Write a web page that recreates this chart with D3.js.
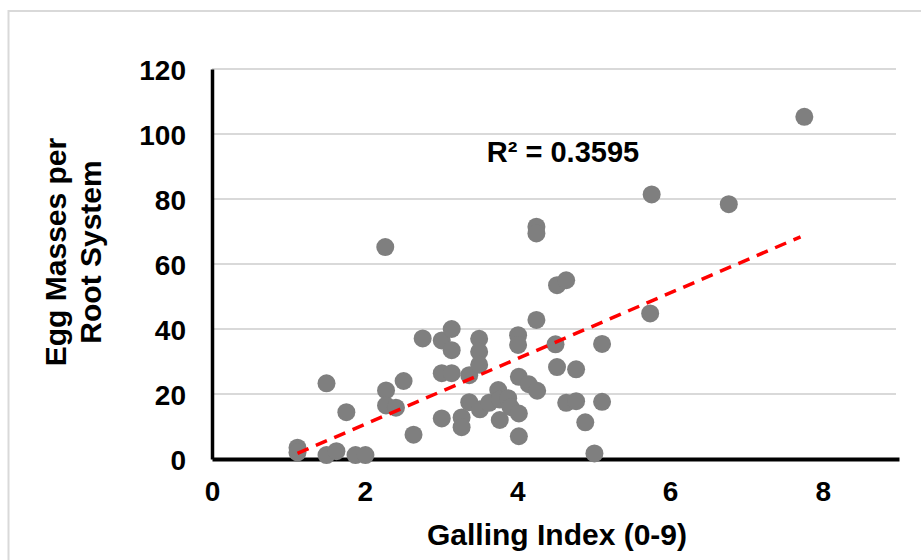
<!DOCTYPE html>
<html>
<head>
<meta charset="utf-8">
<script src="https://cdn.jsdelivr.net/npm/d3@7"></script>
<style>
  body { margin: 0; background: #fff; }
  text { font-family: "Liberation Sans", Arial, sans-serif; font-weight: bold; fill: #000; }
</style>
</head>
<body>
<svg id="chart"></svg>
<script>
// Galling index (x) and egg masses per root system (y)
const gallingIndex = [
  1.12, 1.12, 1.50, 1.63, 1.50, 1.76, 1.88, 2.01, 2.27, 2.28,
  2.28, 2.41, 2.51, 2.64, 2.76, 3.01, 3.14, 3.14, 3.01, 3.14,
  3.01, 3.27, 3.27, 3.37, 3.37, 3.50, 3.50, 3.50, 3.51, 3.63,
  3.75, 3.77, 3.88, 3.91, 3.77, 4.02, 4.02, 4.01, 4.01, 4.02,
  4.15, 4.26, 4.25, 4.25, 4.25, 4.50, 4.52, 4.52, 4.64, 4.64,
  4.77, 4.77, 4.89, 5.01, 5.11, 5.11, 5.74, 5.76, 6.77, 7.76
];
const eggMasses = [
  3.5, 2.0, 1.2, 2.4, 23.3, 14.4, 1.2, 1.2, 65.2, 21.1,
  16.5, 15.8, 24.0, 7.5, 37.1, 36.5, 40.0, 33.5, 26.4, 26.4,
  12.5, 12.8, 9.8, 25.8, 17.5, 37.0, 33.0, 29.0, 15.3, 17.3,
  21.2, 18.3, 18.7, 16.0, 12.0, 14.0, 7.0, 38.1, 35.1, 25.3,
  23.0, 21.0, 71.5, 69.4, 42.8, 35.3, 28.3, 53.5, 55.0, 17.3,
  17.8, 27.6, 11.3, 1.7, 35.4, 17.6, 44.8, 81.4, 78.4, 105.3
];

const xTicks = [0, 2, 4, 6, 8];
const yTicks = [0, 20, 40, 60, 80, 100, 120];

// linear trendline as shown on the chart
const trendSlope = 10.11;
const trendIntercept = -9.58;
const rSquaredLabel = "R² = 0.3595";

const WIDTH = 921;
const HEIGHT = 560;
const margin = { top: 69, right: 22, bottom: 101, left: 212 };

const CHART_START_X = margin.left;
const CHART_END_X = WIDTH - margin.right;
const CHART_START_Y = margin.top;
const CHART_END_Y = HEIGHT - margin.bottom;

const svg = d3.select("#chart")
  .attr("width", WIDTH)
  .attr("height", HEIGHT);

// outer chart frame
svg.append("rect")
  .attr("x", 8.5)
  .attr("y", 11)
  .attr("width", 1000)
  .attr("height", 1000)
  .attr("fill", "none")
  .attr("stroke", "#d9d9d9")
  .attr("stroke-width", 2);

const xScale = d3.scaleLinear().domain([0, 9]).range([CHART_START_X, CHART_END_X]);
const yScale = d3.scaleLinear().domain([0, 120]).range([CHART_END_Y, CHART_START_Y]);

// gridlines
svg.append("g")
  .selectAll("line")
  .data(yTicks.filter((d) => d > 0))
  .join("line")
  .attr("x1", CHART_START_X)
  .attr("x2", CHART_END_X - 3)
  .attr("y1", (d) => yScale(d))
  .attr("y2", (d) => yScale(d))
  .attr("stroke", "#d9d9d9")
  .attr("stroke-width", 2);

// axes
const xAxis = d3.axisBottom(xScale).tickValues(xTicks).tickSize(0).tickPadding(20).tickSizeOuter(0);
const yAxis = d3.axisLeft(yScale).tickValues(yTicks).tickSize(0).tickPadding(26).tickSizeOuter(0);

const gx = svg.append("g")
  .attr("transform", `translate(0, ${CHART_END_Y})`)
  .call(xAxis);
gx.select(".domain").attr("stroke", "#000").attr("stroke-width", 4);
gx.selectAll("text").style("font-size", "28px").attr("dy", "0.78em");

const gy = svg.append("g")
  .attr("transform", `translate(${CHART_START_X}, 0)`)
  .call(yAxis);
gy.select(".domain").attr("stroke", "#000").attr("stroke-width", 3.5);
gy.selectAll("text").style("font-size", "28px").attr("dy", "0.36em");

// axis titles
svg.append("text")
  .attr("x", 557)
  .attr("y", 545)
  .attr("text-anchor", "middle")
  .style("font-size", "30px")
  .text("Galling Index (0-9)");

const yTitle = svg.append("text")
  .attr("transform", "translate(66, 252) rotate(-90)")
  .attr("text-anchor", "middle")
  .style("font-size", "30px");
yTitle.append("tspan").attr("x", 0).attr("y", 0).text("Egg Masses per");
yTitle.append("tspan").attr("x", 0).attr("y", 35).text("Root System");

// points
const points = gallingIndex.map((x, i) => ({ x, y: eggMasses[i] }));

svg.append("g")
  .selectAll("circle")
  .data(points)
  .join("circle")
  .attr("cx", (d) => xScale(d.x))
  .attr("cy", (d) => yScale(d.y))
  .attr("r", 9)
  .attr("fill", "#7f7f7f");

// trendline across the data range
const [minX, maxX] = d3.extent(gallingIndex);
svg.append("line")
  .attr("x1", xScale(minX))
  .attr("x2", xScale(maxX - 0.05))
  .attr("y1", yScale(trendSlope * minX + trendIntercept))
  .attr("y2", yScale(trendSlope * (maxX - 0.05) + trendIntercept))
  .attr("stroke", "#ff0000")
  .attr("stroke-width", 3.5)
  .attr("stroke-dasharray", "12,8");

svg.append("text")
  .attr("x", 563)
  .attr("y", 162)
  .attr("text-anchor", "middle")
  .style("font-size", "29px")
  .text(rSquaredLabel);
</script>
</body>
</html>
